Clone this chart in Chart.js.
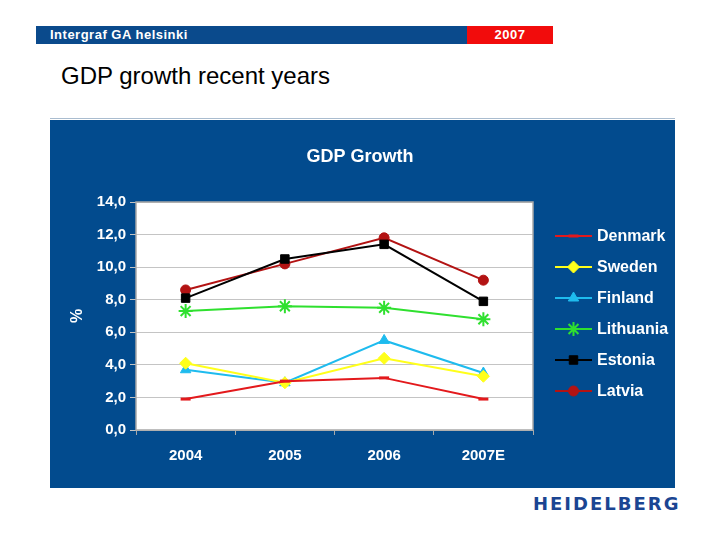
<!DOCTYPE html>
<html><head><meta charset="utf-8">
<script src="https://cdn.jsdelivr.net/npm/chart.js@4/dist/chart.umd.min.js"></script>
<style>
html,body{margin:0;padding:0;background:#fff;width:720px;height:540px;overflow:hidden;font-family:"Liberation Sans",Arial,sans-serif;}
#hbar{position:absolute;left:36px;top:26px;width:431px;height:18px;background:#0a4a8c;}
#hred{position:absolute;left:467px;top:26px;width:86px;height:18px;background:#f20c0c;}
#htxt{position:absolute;left:50px;top:26px;height:18px;line-height:18px;color:#fff;font-weight:bold;font-size:13px;letter-spacing:0.5px;}
#hyr{position:absolute;left:467px;top:26px;width:86px;height:18px;line-height:18px;color:#fff;font-weight:bold;font-size:13px;letter-spacing:0.5px;text-align:center;}
#title{position:absolute;left:61px;top:62px;font-size:24px;line-height:28px;color:#000;}
#sep{position:absolute;left:50px;top:118px;width:625px;height:1px;background:#a9bccf;}
#panel{position:absolute;left:50px;top:120px;width:625px;height:368px;background:#024b8e;}
#logo{position:absolute;left:533px;top:493px;font-family:"DejaVu Sans",sans-serif;font-weight:bold;font-size:18px;color:#1b4592;letter-spacing:2px;}
</style></head>
<body>
<div id="hbar"></div><div id="hred"></div>
<div id="htxt">Intergraf GA helsinki</div><div id="hyr">2007</div>
<div id="title">GDP growth recent years</div>
<div id="sep"></div>
<div id="panel"><canvas id="c" width="625" height="368"></canvas></div>
<div id="logo">HEIDELBERG</div>
<script>
const categories = ["2004", "2005", "2006", "2007E"];
const seriesNames = ["Denmark", "Sweden", "Finland", "Lithuania", "Estonia", "Latvia"];
const denmark   = [1.9, 3.0, 3.2, 1.9];
const sweden    = [4.1, 2.9, 4.4, 3.3];
const finland   = [3.7, 2.9, 5.5, 3.5];
const lithuania = [7.3, 7.6, 7.5, 6.8];
const estonia   = [8.1, 10.5, 11.4, 7.9];
const latvia    = [8.6, 10.2, 11.8, 9.2];
const yTicks = [0, 2, 4, 6, 8, 10, 12, 14];
const chartTitle = "GDP Growth";

const styles = [
  {color:"#e3191c", point:"line", radius:5, bw:3},
  {color:"#ffff1a", point:"rectRot", radius:6, bw:1},
  {color:"#1ebbee", point:"triangle", radius:6, bw:1},
  {color:"#2fe02f", point:"star", radius:7, bw:2},
  {color:"#000000", point:"rect", radius:6, bw:1},
  {color:"#b31313", point:"circle", radius:5, bw:1}
];
const values = [denmark, sweden, finland, lithuania, estonia, latvia];

const datasets = values.map((v,i)=>({
  label: seriesNames[i],
  data: v,
  borderColor: styles[i].color,
  backgroundColor: styles[i].color,
  pointStyle: styles[i].point,
  pointRadius: styles[i].radius,
  pointBorderWidth: styles[i].bw,
  pointBorderColor: styles[i].color,
  pointBackgroundColor: styles[i].color,
  borderWidth: 2,
  tension: 0,
  fill: false
}));

const FONT = '"Liberation Sans", Arial, sans-serif';

const bgPlugin = {
  id:'bg',
  beforeDraw(chart){
    const a = chart.chartArea, ctx = chart.ctx;
    ctx.save();
    ctx.fillStyle = '#ffffff';
    ctx.fillRect(a.left, a.top, a.right-a.left, a.bottom-a.top);
    ctx.restore();
  },
  afterDraw(chart){
    const a = chart.chartArea, ctx = chart.ctx;
    ctx.save();
    ctx.strokeStyle = '#a8a8a8';
    ctx.lineWidth = 1.5;
    ctx.strokeRect(a.left, a.top, a.right-a.left, a.bottom-a.top);
    // title
    ctx.fillStyle = '#ffffff';
    ctx.font = 'bold 18px ' + FONT;
    ctx.textAlign = 'center';
    ctx.textBaseline = 'middle';
    ctx.fillText(chartTitle, 310, 37);
    // legend
    chart.data.datasets.forEach((ds,i)=>{
      const y = 116 + i*31;
      ctx.strokeStyle = ds.borderColor;
      ctx.lineWidth = 2;
      ctx.beginPath(); ctx.moveTo(505,y); ctx.lineTo(542,y); ctx.stroke();
      ctx.fillStyle = ds.pointBackgroundColor;
      ctx.strokeStyle = ds.pointBorderColor;
      ctx.lineWidth = ds.pointBorderWidth;
      Chart.helpers.drawPoint(ctx, {pointStyle: ds.pointStyle, radius: ds.pointRadius, rotation:0, borderWidth: ds.pointBorderWidth}, 523.5, y);
      ctx.fillStyle = '#ffffff';
      ctx.font = 'bold 16px ' + FONT;
      ctx.textBaseline = 'middle';
      ctx.textAlign = 'left';
      ctx.fillText(ds.label, 547, y+1);
    });
    ctx.restore();
  }
};

new Chart(document.getElementById('c'), {
  type:'line',
  data:{labels:categories, datasets},
  plugins:[bgPlugin],
  options:{
    responsive:false,
    animation:false,
    layout:{padding:{left:0, right:142, top:82, bottom:0}},
    plugins:{
      legend:{display:false},
      tooltip:{enabled:false},
      title:{display:false}
    },
    scales:{
      x:{
        offset:true,
        grid:{display:true, drawOnChartArea:false, offset:true, tickLength:5, color:'#a8a8a8'},
        border:{display:false},
        ticks:{color:'#ffffff', font:{family:FONT, size:15, weight:'bold'}, padding:12},
        afterFit(s){ s.height = 58; }
      },
      y:{
        min:0, max:14,
        afterBuildTicks(s){ s.ticks = yTicks.map(v=>({value:v})); },
        grid:{color:'#c4c4c4', lineWidth:1, tickLength:6},
        border:{display:false},
        ticks:{color:'#ffffff', font:{family:FONT, size:15, weight:'bold'}, padding:4,
          callback:(v)=>Number(v).toFixed(1).replace('.', ',')},
        title:{display:true, text:'%', color:'#ffffff', font:{family:FONT, size:16, weight:'bold'}, padding:{top:18, bottom:0}},
        afterFit(s){ s.width = 86; }
      }
    }
  }
});
</script>
</body></html>
